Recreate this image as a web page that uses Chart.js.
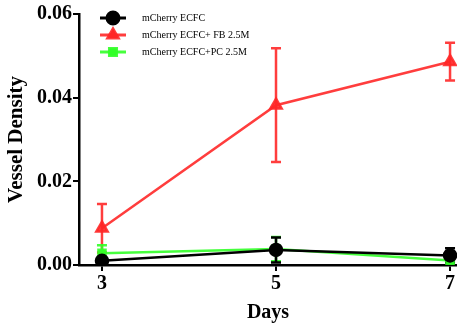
<!DOCTYPE html>
<html>
<head>
<meta charset="utf-8">
<script src="https://cdn.jsdelivr.net/npm/chart.js@4.4.0/dist/chart.umd.min.js"></script>
<style>
  html, body { margin: 0; padding: 0; background: #fff; }
  #wrap { width: 457px; height: 329px; position: relative; }
</style>
</head>
<body>
<div id="wrap"><canvas id="chart"></canvas></div>
<script>
// days measured
const days = [3, 5, 7];

// mean vessel density per group
const ecfc = [0.0010, 0.0036, 0.0023];
const ecfcFb = [0.0088, 0.0382, 0.0486];
const ecfcPc = [0.0028, 0.0038, 0.0011];

// error (± sd)
const ecfcErr = [0.0005, 0.0030, 0.0017];
const ecfcFbErr = [0.0058, 0.0136, 0.0045];
const ecfcPcErr = [0.0019, 0.0029, 0.0003];

const yTicks = [0, 0.02, 0.04, 0.06];

const BLACK = '#000000';
const RED = 'rgba(255, 40, 40, 0.9)';
const GREEN = 'rgba(50, 255, 40, 0.9)';

const toXY = arr => arr.map((v, i) => ({ x: days[i], y: v }));

// simple error bar plugin, draws through the chart's own scales
const errorBars = {
  id: 'errorBars',
  beforeDatasetsDraw(chart) {
    const { ctx, scales: { x, y } } = chart;
    // draw bottom-most first: red, green, black
    [1, 2, 0].forEach(di => {
      const ds = chart.data.datasets[di];
      ctx.save();
      ctx.strokeStyle = ds.borderColor;
      ctx.lineWidth = 2.5;
      ds.data.forEach((p, i) => {
        const e = ds.errors[i];
        const px = x.getPixelForValue(p.x);
        const top = y.getPixelForValue(p.y + e);
        const bot = y.getPixelForValue(Math.max(0, p.y - e));
        ctx.beginPath();
        ctx.moveTo(px, top); ctx.lineTo(px, bot);
        ctx.moveTo(px - 5, top); ctx.lineTo(px + 5, top);
        ctx.moveTo(px - 5, bot); ctx.lineTo(px + 5, bot);
        ctx.stroke();
      });
      ctx.restore();
    });
  }
};

// legend drawn with line + marker like the original
const sampleLegend = {
  id: 'sampleLegend',
  afterDraw(chart) {
    const { ctx } = chart;
    ctx.save();
    [0, 1, 2].forEach((di, r) => {
      const ds = chart.data.datasets[di];
      const yy = 18 + r * 17;
      ctx.strokeStyle = ds.borderColor;
      ctx.fillStyle = ds.borderColor;
      ctx.lineWidth = 3;
      ctx.beginPath();
      ctx.moveTo(100, yy); ctx.lineTo(126, yy);
      ctx.stroke();
      Chart.helpers.drawPoint(ctx, { pointStyle: ds.pointStyle, radius: di === 2 ? 5 : 6, borderWidth: 1 }, 113, yy);
      ctx.fill();
      ctx.fillStyle = '#000';
      ctx.font = '10px "Liberation Serif", "Times New Roman", serif';
      ctx.textBaseline = 'middle';
      ctx.fillText(ds.label, 142, yy);
    });
    ctx.restore();
  }
};

const font = { family: '"Liberation Serif", "Times New Roman", serif', weight: 'bold' };

new Chart(document.getElementById('chart'), {
  type: 'line',
  data: {
    datasets: [
      { label: 'mCherry ECFC', data: toXY(ecfc), errors: ecfcErr,
        borderColor: BLACK, backgroundColor: BLACK, borderWidth: 2.5,
        pointStyle: 'circle', pointRadius: 6 },
      { label: 'mCherry ECFC+ FB 2.5M', data: toXY(ecfcFb), errors: ecfcFbErr,
        borderColor: RED, backgroundColor: RED, borderWidth: 2.5,
        pointStyle: 'triangle', pointRadius: 6.5 },
      { label: 'mCherry ECFC+PC 2.5M', data: toXY(ecfcPc), errors: ecfcPcErr,
        borderColor: GREEN, backgroundColor: GREEN, borderWidth: 2.5,
        pointStyle: 'rect', pointRadius: 5 }
    ]
  },
  options: {
    responsive: true,
    maintainAspectRatio: false,
    animation: false,
    layout: { autoPadding: false, padding: { top: 14, right: 0, left: 0, bottom: 0 } },
    plugins: { legend: { display: false }, tooltip: { enabled: false } },
    scales: {
      x: {
        type: 'linear',
        min: 2.736,
        max: 7.08,
        afterBuildTicks: s => { s.ticks = days.map(v => ({ value: v })); },
        afterFit: s => { s.height = 64; s.paddingRight = 0; s.paddingLeft = 0; },
        grid: { display: true, drawOnChartArea: false, drawTicks: true, tickLength: 6, tickColor: '#000', lineWidth: 2 },
        border: { color: '#000', width: 2.5 },
        ticks: { color: '#000', font: { ...font, size: 20 }, padding: 1, maxRotation: 0, callback: v => v },
        title: { display: true, text: 'Days', color: '#000', font: { ...font, size: 20 }, padding: { top: 3 } }
      },
      y: {
        min: 0,
        max: 0.06,
        afterBuildTicks: s => { s.ticks = yTicks.map(v => ({ value: v })); },
        afterFit: s => { s.width = 79; },
        grid: { display: true, drawOnChartArea: false, drawTicks: true, tickLength: 6, tickColor: '#000', lineWidth: 2 },
        border: { color: '#000', width: 2.5 },
        ticks: { color: '#000', font: { ...font, size: 20 }, padding: 1, callback: v => v.toFixed(2) },
        title: { display: true, text: 'Vessel Density', color: '#000', font: { ...font, size: 21 }, padding: { bottom: 0 } }
      }
    }
  },
  plugins: [errorBars, sampleLegend]
});
</script>
</body>
</html>
